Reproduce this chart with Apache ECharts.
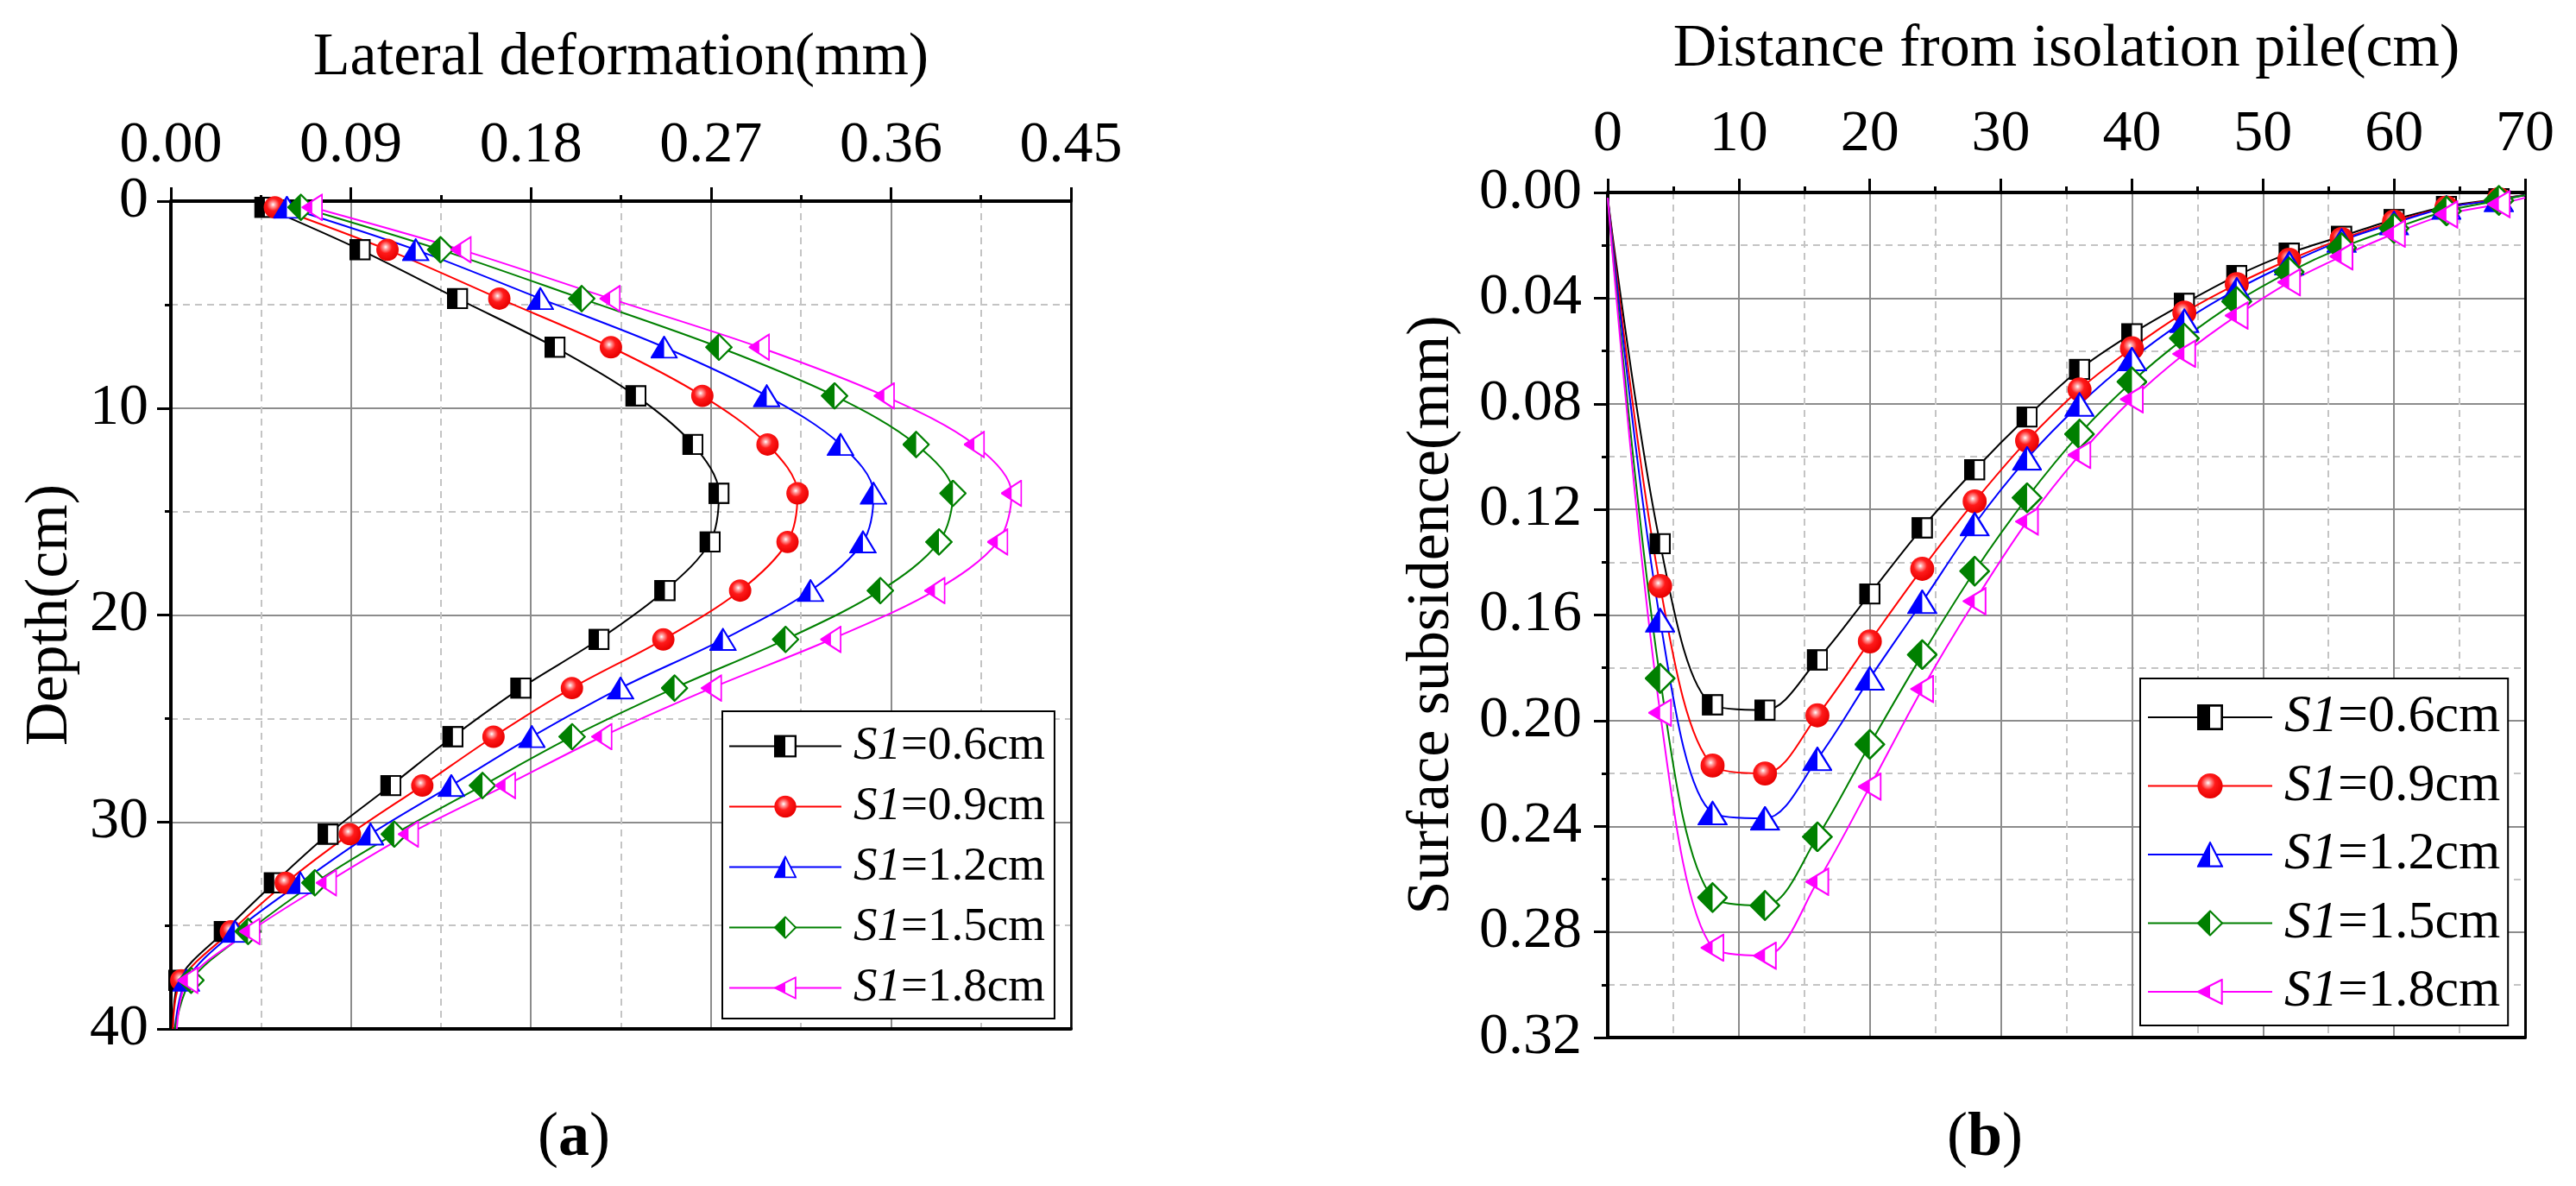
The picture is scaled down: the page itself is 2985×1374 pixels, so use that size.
<!DOCTYPE html>
<html>
<head>
<meta charset="utf-8">
<script src="https://cdn.jsdelivr.net/npm/echarts/dist/echarts.min.js"></script>
<style>
html, body { margin: 0; padding: 0; background: #fff; }
#main { width: 2985px; height: 1374px; }
</style>
</head>
<body>
<div id="main"></div>
<script>
// (a) lateral deformation vs depth
var depthA = [0.3, 2.35, 4.71, 7.06, 9.41, 11.76, 14.12, 16.47, 18.82, 21.18, 23.53, 25.88, 28.24, 30.59, 32.94, 35.29, 37.65, 40];
var latS06 = [0.047, 0.0946, 0.1433, 0.192, 0.2325, 0.261, 0.274, 0.2696, 0.247, 0.214, 0.175, 0.141, 0.110, 0.0786, 0.0517, 0.0267, 0.004, 0.001];
var latS09 = [0.052, 0.1083, 0.1642, 0.220, 0.2657, 0.2983, 0.3133, 0.3083, 0.2846, 0.2462, 0.2005, 0.1613, 0.1257, 0.0895, 0.0574, 0.030, 0.0052, 0.001];
var latS12 = [0.058, 0.1224, 0.1847, 0.2466, 0.2979, 0.3348, 0.3513, 0.346, 0.3198, 0.276, 0.2248, 0.1805, 0.1402, 0.0998, 0.0647, 0.032, 0.0077, 0.002];
var latS15 = [0.065, 0.1348, 0.2054, 0.274, 0.3318, 0.3726, 0.391, 0.384, 0.3547, 0.3073, 0.2518, 0.2006, 0.1558, 0.1117, 0.072, 0.0386, 0.0101, 0.002];
var latS18 = [0.0707, 0.1451, 0.2196, 0.2942, 0.3567, 0.4017, 0.4203, 0.4134, 0.382, 0.330, 0.2703, 0.2155, 0.1673, 0.1188, 0.0778, 0.0395, 0.0085, 0.003];

// (b) surface subsidence vs distance
var distB = [0, 4, 8, 12, 16, 20, 24, 28, 32, 36, 40, 44, 48, 52, 56, 60, 64, 68, 70];
var subS06 = [0.002, 0.133, 0.194, 0.196, 0.177, 0.152, 0.127, 0.105, 0.085, 0.067, 0.0535, 0.042, 0.0315, 0.023, 0.0166, 0.0103, 0.0053, 0.0024, 0.001];
var subS09 = [0.002, 0.149, 0.217, 0.220, 0.198, 0.170, 0.1425, 0.117, 0.094, 0.0746, 0.059, 0.0455, 0.0347, 0.0255, 0.0176, 0.011, 0.0057, 0.0025, 0.001];
var subS12 = [0.002, 0.162, 0.235, 0.237, 0.2145, 0.184, 0.155, 0.1256, 0.1007, 0.0803, 0.0631, 0.0486, 0.0367, 0.0268, 0.0182, 0.0116, 0.0057, 0.0028, 0.001];
var subS15 = [0.002, 0.184, 0.267, 0.270, 0.244, 0.209, 0.175, 0.1434, 0.1156, 0.0915, 0.0717, 0.0552, 0.0413, 0.0301, 0.0209, 0.0136, 0.007, 0.003, 0.001];
var subS18 = [0.002, 0.197, 0.286, 0.289, 0.261, 0.225, 0.188, 0.1548, 0.1246, 0.0994, 0.0783, 0.0611, 0.0466, 0.034, 0.0242, 0.0156, 0.0083, 0.0044, 0.002];

var names = ['S1=0.6cm', 'S1=0.9cm', 'S1=1.2cm', 'S1=1.5cm', 'S1=1.8cm'];
var colors = ['#000000', '#ff0000', '#0000ff', '#008000', '#ff00ff'];
var xTicksA = [0, 0.45, 0.09];
var yTicksA = [0, 40, 10];
var xTicksB = [0, 70, 10];
var yTicksB = [0, 0.32, 0.04];

// points drawn without a marker (they sit on the frame in the original)
var bareA = [17];
var bareB = [0, 18];

var FONT = 'Liberation Serif';

function svgSym(body) {
    return 'image://data:image/svg+xml;charset=utf-8,' + encodeURIComponent(
        '<svg xmlns="http://www.w3.org/2000/svg" viewBox="0 0 100 100" preserveAspectRatio="none">' + body + '</svg>');
}

// half filled markers like the Origin ones
var symbols = [
    svgSym('<rect x="5" y="5" width="90" height="90" fill="#fff" stroke="#000" stroke-width="9"/><rect x="5" y="5" width="45" height="90" fill="#000"/>'),
    svgSym('<defs><radialGradient id="g" cx="42%" cy="38%" r="62%"><stop offset="0" stop-color="#fff"/><stop offset="0.16" stop-color="#ffa0a0"/><stop offset="0.45" stop-color="#ff1a1a"/><stop offset="1" stop-color="#e80000"/></radialGradient></defs><circle cx="50" cy="50" r="48" fill="url(#g)"/>'),
    svgSym('<polygon points="50,5 96,95 4,95" fill="#fff" stroke="#0000ff" stroke-width="7"/><polygon points="50,5 50,95 4,95" fill="#0000ff"/>'),
    svgSym('<polygon points="50,4 96,50 50,96 4,50" fill="#fff" stroke="#008000" stroke-width="7"/><polygon points="50,4 50,96 4,50" fill="#008000"/>'),
    svgSym('<polygon points="4,50 95,4 95,96" fill="#fff" stroke="#ff00ff" stroke-width="7"/><polygon points="4,50 50,27 50,73" fill="#ff00ff"/>')
];
var sizesA = [[25, 25], 27, [32, 27], [32, 32], [25, 32]];
var sizesB = [[25, 25], 29, [35, 29], [36, 36], [28, 33]];

function pairs(xs, ys, bare) {
    return xs.map(function (x, i) {
        if (bare.indexOf(i) >= 0) return { value: [x, ys[i]], symbol: 'none' };
        return [x, ys[i]];
    });
}

var seriesA = [latS06, latS09, latS12, latS15, latS18];
var seriesB = [subS06, subS09, subS12, subS15, subS18];

var series = [];
seriesA.forEach(function (vals, i) {
    series.push({
        name: names[i], type: 'line', xAxisIndex: 0, yAxisIndex: 0,
        data: pairs(vals, depthA, bareA),
        smooth: 0.33, symbol: symbols[i], symbolSize: sizesA[i],
        lineStyle: { color: colors[i], width: 2 },
        itemStyle: { color: colors[i] }
    });
});
seriesB.forEach(function (vals, i) {
    series.push({
        name: names[i], type: 'line', xAxisIndex: 2, yAxisIndex: 2,
        data: pairs(distB, vals, bareB),
        smooth: 0.33, symbol: symbols[i], symbolSize: sizesB[i],
        lineStyle: { color: colors[i], width: 2 },
        itemStyle: { color: colors[i] }
    });
});

function mainAxis(grid, ticks, fmt, extra) {
    var ax = {
        gridIndex: grid, type: 'value',
        min: ticks[0], max: ticks[1], interval: ticks[2],
        nameLocation: 'middle',
        nameTextStyle: { fontFamily: FONT, fontSize: 70, color: '#000' },
        axisLine: { onZero: false, lineStyle: { color: '#000', width: 4 } },
        axisTick: { inside: false, length: 16, lineStyle: { color: '#000', width: 3 } },
        minorTick: { show: true, splitNumber: 2, length: 7, lineStyle: { color: '#000', width: 3 } },
        axisLabel: { fontFamily: FONT, fontSize: 68, color: '#000', formatter: fmt },
        splitLine: { show: true, lineStyle: { color: '#8c8c8c', width: 2 } },
        minorSplitLine: { show: true, lineStyle: { color: '#c4c4c4', width: 2, type: [8, 6] } }
    };
    for (var k in extra) ax[k] = extra[k];
    return ax;
}

function frameAxis(grid, ticks, pos, w, inverse) {
    return {
        gridIndex: grid, type: 'value', position: pos, inverse: !!inverse,
        min: ticks[0], max: ticks[1],
        axisLine: { onZero: false, lineStyle: { color: '#000', width: w } },
        axisTick: { show: false }, axisLabel: { show: false }, splitLine: { show: false }
    };
}

function fix2(v) { return v.toFixed(2); }
function int0(v) { return String(Math.round(v)); }

var legendRich = function (fs) {
    return {
        i: { fontFamily: FONT, fontSize: fs, fontStyle: 'italic', color: '#000', padding: [0, 0, 0, 9] },
        n: { fontFamily: FONT, fontSize: fs, color: '#000' }
    };
};
function legendFmt(name) {
    return '{i|S1}{n|' + name.slice(2) + '}';
}

var option = {
    animation: false,
    backgroundColor: '#fff',
    grid: [
        { left: 198, top: 233, width: 1043, height: 959, containLabel: false, outerBoundsMode: 'none' },
        { left: 1863, top: 223, width: 1063, height: 979, containLabel: false, outerBoundsMode: 'none' }
    ],
    xAxis: [
        mainAxis(0, xTicksA, fix2, { position: 'top', name: 'Lateral deformation(mm)', nameGap: 130,
            axisLabel: { fontFamily: FONT, fontSize: 68, color: '#000', margin: 30, formatter: fix2 } }),
        frameAxis(0, xTicksA, 'bottom', 4),
        mainAxis(1, xTicksB, int0, { position: 'top', name: 'Distance from isolation pile(cm)', nameGap: 130,
            axisLabel: { fontFamily: FONT, fontSize: 68, color: '#000', margin: 33, formatter: int0 } }),
        frameAxis(1, xTicksB, 'bottom', 4)
    ],
    yAxis: [
        mainAxis(0, yTicksA, int0, { inverse: true, position: 'left', name: 'Depth(cm)', nameGap: 104,
            axisLabel: { fontFamily: FONT, fontSize: 68, color: '#000', margin: 26, formatter: int0 } }),
        frameAxis(0, yTicksA, 'right', 2.5, true),
        mainAxis(1, yTicksB, fix2, { inverse: true, position: 'left', name: 'Surface subsidence(mm)', nameGap: 168,
            axisLabel: { fontFamily: FONT, fontSize: 68, color: '#000', margin: 30, formatter: fix2 } }),
        frameAxis(1, yTicksB, 'right', 3, true)
    ],
    legend: [
        {
            data: names, orient: 'vertical', left: 837, top: 824,
            backgroundColor: '#fff', borderColor: '#000', borderWidth: 2,
            padding: [13, 11, 8, 7], itemWidth: 130, itemHeight: 33, itemGap: 15,
            formatter: legendFmt,
            textStyle: { fontFamily: FONT, fontSize: 55, color: '#000', rich: legendRich(55) }
        },
        {
            data: names, orient: 'vertical', left: 2480, top: 786,
            backgroundColor: '#fff', borderColor: '#000', borderWidth: 2,
            padding: [14, 9, 8, 8], itemWidth: 144, itemHeight: 38, itemGap: 17.5,
            formatter: legendFmt,
            textStyle: { fontFamily: FONT, fontSize: 62, color: '#000', rich: legendRich(62) }
        }
    ],
    graphic: [
        { type: 'text', x: 665, y: 1319, style: { text: '{n|(}{b|a}{n|)}', align: 'center', verticalAlign: 'middle',
            rich: { n: { fontFamily: FONT, fontSize: 72, fill: '#000' }, b: { fontFamily: FONT, fontSize: 72, fontWeight: 'bold', fill: '#000' } } } },
        { type: 'text', x: 2300, y: 1319, style: { text: '{n|(}{b|b}{n|)}', align: 'center', verticalAlign: 'middle',
            rich: { n: { fontFamily: FONT, fontSize: 72, fill: '#000' }, b: { fontFamily: FONT, fontSize: 72, fontWeight: 'bold', fill: '#000' } } } }
    ],
    series: series
};

var chart = echarts.init(document.getElementById('main'));
chart.setOption(option);
</script>
</body>
</html>
